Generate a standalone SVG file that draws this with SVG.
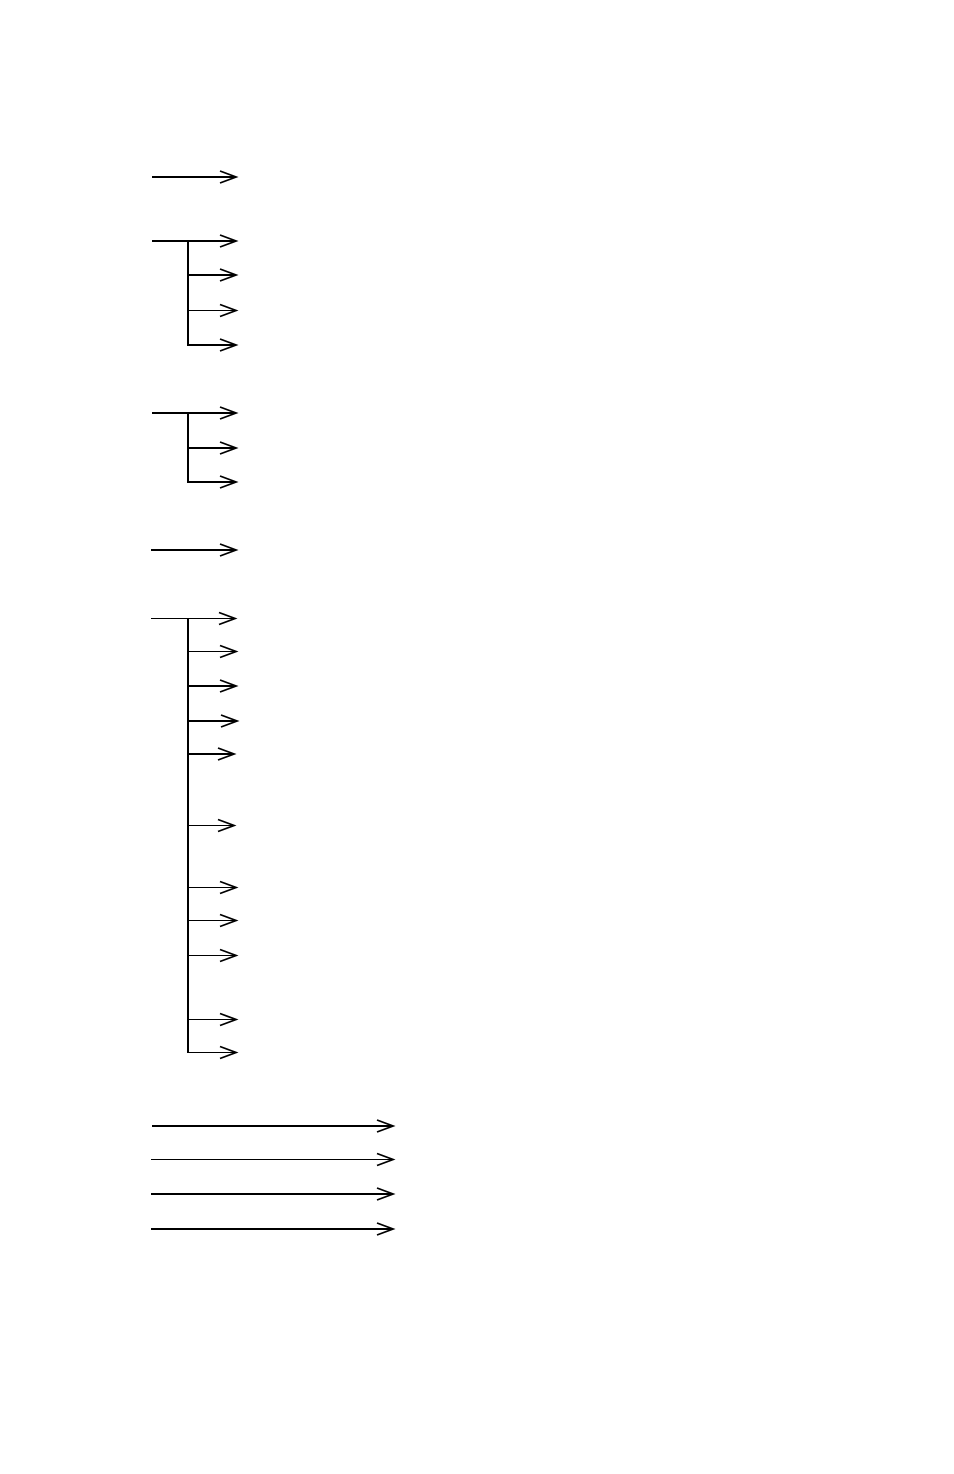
<svg xmlns="http://www.w3.org/2000/svg" width="954" height="1474" viewBox="0 0 954 1474">
<style>
.t{stroke:#000;stroke-width:2;fill:none}
.n{stroke:#000;stroke-width:1;fill:none}
.h{stroke:#000;stroke-width:1.8;fill:none}
</style>
<defs>
<path id="ah" d="M-16,-6 L0,0 L-16,6" class="h"/>
</defs>
<rect width="954" height="1474" fill="#fff"/>
<g id="connectors">
<line class="t" x1="152" y1="177" x2="235" y2="177"/><use href="#ah" x="236" y="177"/>
<line class="t" x1="152" y1="241" x2="235" y2="241"/><use href="#ah" x="236" y="241"/>
<line class="t" x1="188" y1="241" x2="188" y2="346"/>
<line class="t" x1="188" y1="275" x2="235" y2="275"/><use href="#ah" x="236" y="275"/>
<line class="n" x1="188" y1="310.5" x2="235" y2="310.5"/><use href="#ah" x="236" y="310.5"/>
<line class="t" x1="187" y1="345" x2="235" y2="345"/><use href="#ah" x="236" y="345"/>
<line class="t" x1="152" y1="413" x2="235" y2="413"/><use href="#ah" x="236" y="413"/>
<line class="t" x1="188" y1="413" x2="188" y2="483"/>
<line class="t" x1="188" y1="448" x2="235" y2="448"/><use href="#ah" x="236" y="448"/>
<line class="t" x1="187" y1="482" x2="235" y2="482"/><use href="#ah" x="236" y="482"/>
<line class="t" x1="151" y1="550" x2="235" y2="550"/><use href="#ah" x="236" y="550"/>
<line class="n" x1="151" y1="618.5" x2="234" y2="618.5"/><use href="#ah" x="235" y="618.5"/>
<line class="t" x1="188" y1="618" x2="188" y2="1053"/>
<line class="n" x1="188" y1="651.5" x2="235" y2="651.5"/><use href="#ah" x="236" y="651.5"/>
<line class="t" x1="188" y1="686" x2="235" y2="686"/><use href="#ah" x="236" y="686"/>
<line class="t" x1="188" y1="721" x2="236" y2="721"/><use href="#ah" x="237" y="721"/>
<line class="t" x1="188" y1="754" x2="233" y2="754"/><use href="#ah" x="234" y="754"/>
<line class="n" x1="188" y1="825.5" x2="233" y2="825.5"/><use href="#ah" x="234" y="825.5"/>
<line class="n" x1="188" y1="887.5" x2="235" y2="887.5"/><use href="#ah" x="236" y="887.5"/>
<line class="n" x1="188" y1="920.5" x2="235" y2="920.5"/><use href="#ah" x="236" y="920.5"/>
<line class="n" x1="188" y1="955.5" x2="235" y2="955.5"/><use href="#ah" x="236" y="955.5"/>
<line class="n" x1="188" y1="1019.5" x2="235" y2="1019.5"/><use href="#ah" x="236" y="1019.5"/>
<line class="n" x1="187" y1="1052.5" x2="235" y2="1052.5"/><use href="#ah" x="236" y="1052.5"/>
<line class="t" x1="152" y1="1126" x2="392" y2="1126"/><use href="#ah" x="393" y="1126"/>
<line class="n" x1="151" y1="1159.5" x2="392" y2="1159.5"/><use href="#ah" x="393" y="1159.5"/>
<line class="t" x1="151" y1="1194" x2="392" y2="1194"/><use href="#ah" x="393" y="1194"/>
<line class="t" x1="151" y1="1229" x2="392" y2="1229"/><use href="#ah" x="393" y="1229"/>
</g>
</svg>
